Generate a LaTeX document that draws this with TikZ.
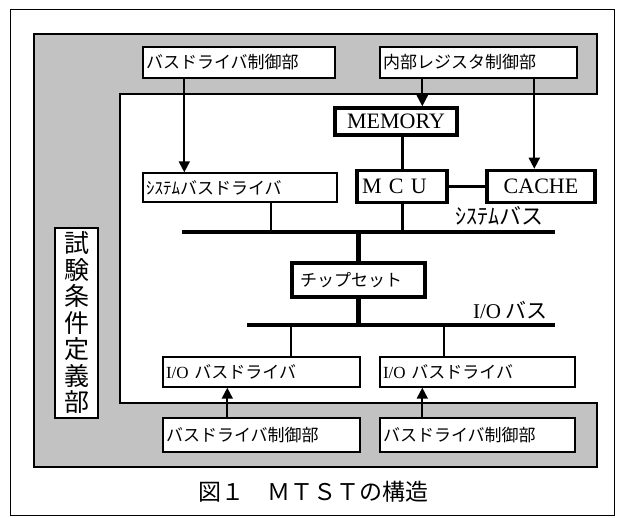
\documentclass[tikz,border=0pt]{standalone}
\usepackage{fontspec}
\usepackage{tikz}
\usetikzlibrary{arrows.meta, calc, positioning}
\setmainfont{Liberation Serif}
\newfontfamily\jp{Noto Sans CJK JP}
\definecolor{stipple}{rgb}{0.76, 0.76, 0.76}

\tikzset{
	box/.style={draw, fill=white, line width=1.4pt, inner xsep=3pt, inner ysep=0pt, align=left, font={\jp\fontsize{17}{19}\selectfont}},
	hbox/.style={draw, fill=white, line width=3.5pt, inner sep=0pt, align=center, font={\fontsize{22}{24}\selectfont}},
	bus/.style={line width=4.5pt},
	wire/.style={line width=1.8pt},
	fatwire/.style={line width=3pt},
	arr/.style={line width=1.8pt, -{Triangle[width=11pt,length=11pt]}}
}

\begin{document}
\begin{tikzpicture}[x=1pt, y=-1pt]
	\useasboundingbox (0,0) rectangle (617,518);
	\draw[line width=1pt] (10,10) rectangle (614,515);
	\draw[line width=1.4pt, fill=stipple] (34,34) -- (597,34) -- (597,94) -- (120,94) -- (120,403) -- (597,403) -- (597,467) -- (34,467) -- cycle;

	\node[box, text width=186pt, minimum height=31pt] (ctlTL) at (239,62.5) {バスドライバ制御部};
	\node[box, text width=191pt, minimum height=31pt] (ctlReg) at (478.5,62.5) {内部レジスタ制御部};
	\node[box, text width=188pt, minimum height=29pt] (sysdrv) at (240,187.5) {ｼｽﾃﾑバスドライバ};
	\node[box, text width=191pt, minimum height=30pt] (iodrvL) at (261.5,372) {{\rmfamily I/O} バスドライバ};
	\node[box, text width=189pt, minimum height=30pt] (iodrvR) at (477.5,372) {{\rmfamily I/O} バスドライバ};
	\node[box, text width=191pt, minimum height=34pt] (ctlBL) at (261.5,435) {バスドライバ制御部};
	\node[box, text width=189pt, minimum height=34pt] (ctlBR) at (477.5,435) {バスドライバ制御部};
	\node[box, align=center, text width=37pt, minimum height=190pt, font={\jp\fontsize{25}{26.5}\selectfont}] (testdef) at (76.5,323) {試\\験\\条\\件\\定\\義\\部};

	\node[hbox, minimum width=122pt, minimum height=27pt] (mem) at (396,121.5) {MEMORY};
	\node[hbox, minimum width=90pt, minimum height=32pt, text width=80pt, align=left] (mcu) at (402,186.5) {M C U};
	\node[hbox, minimum width=108pt, minimum height=32pt] (cache) at (541,186.5) {CACHE};
	\node[hbox, minimum width=133pt, minimum height=34pt, text width=117pt, align=left, font={\jp\fontsize{17}{19}\selectfont}] (chip) at (358.5,280) {チップセット};

	\coordinate (sysL) at (182,232);
	\coordinate (sysR) at (555,232);
	\coordinate (ioL) at (247,325);
	\coordinate (ioR) at (555,325);
	\draw[bus] (sysL) -- (sysR);
	\draw[bus] (ioL) -- (ioR);
	\node[font={\jp\fontsize{22}{24}\selectfont}, anchor=south east, inner sep=1pt] (syslbl) at (545,227) {ｼｽﾃﾑバス};
	\node[font={\jp\fontsize{21}{23}\selectfont}, anchor=south east, inner sep=1pt] (iolbl) at (549,320) {{\rmfamily I/O} バス};

	\draw[arr] ([xshift=42pt]ctlTL.south west) -- ([xshift=42pt]sysdrv.north west);
	\draw[arr] ([xshift=43pt]ctlReg.south west) -- ([xshift=43pt]ctlReg.south west |- mem.north);
	\draw[arr] ([xshift=155pt]ctlReg.south west) -- ([xshift=155pt]ctlReg.south west |- cache.north);
	\draw[fatwire] (mcu.north) -- (mcu.north |- mem.south);
	\draw[fatwire] (mcu.east) -- (cache.west);
	\draw[fatwire] (mcu.south) -- (mcu.south |- sysL);
	\draw[wire] ([xshift=129pt]sysdrv.south west) -- ([xshift=129pt]sysdrv.south west |- sysL);
	\draw[bus] (chip.north) -- (chip.north |- sysL);
	\draw[bus] (chip.south) -- (chip.south |- ioL);
	\draw[wire] ([xshift=129pt]iodrvL.north west) -- ([xshift=129pt]iodrvL.north west |- ioL);
	\draw[wire] ([xshift=65pt]iodrvR.north west) -- ([xshift=65pt]iodrvR.north west |- ioL);
	\draw[arr] ([xshift=65pt]ctlBL.north west) -- ([xshift=65pt]iodrvL.south west);
	\draw[arr] ([xshift=43pt]ctlBR.north west) -- ([xshift=43pt]iodrvR.south west);

	\node[font={\jp\fontsize{23}{25}\selectfont}] (caption) at (313,492) {図１　ＭＴＳＴの構造};
\end{tikzpicture}
\end{document}
